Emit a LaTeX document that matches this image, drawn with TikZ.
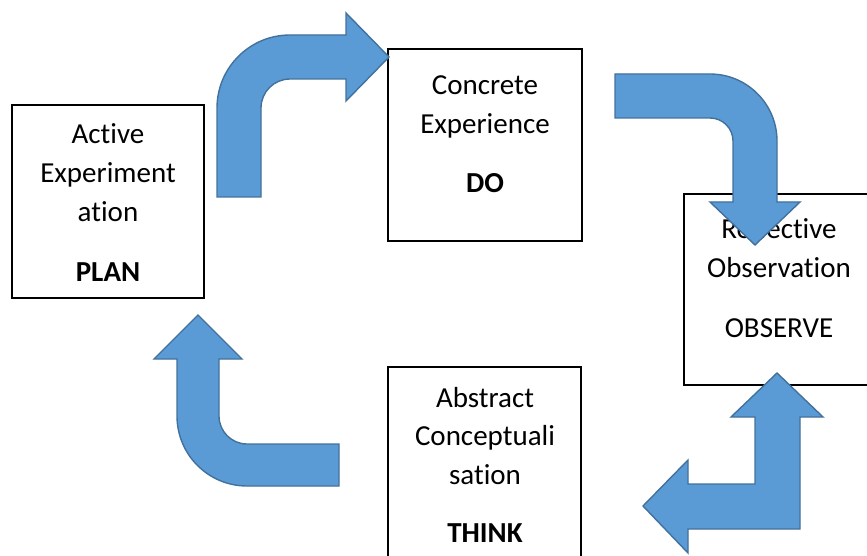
\documentclass[tikz,border=0pt]{standalone}
\usepackage{fontspec}
\setmainfont{Carlito}[Ligatures={NoCommon}]
\definecolor{arrowfill}{HTML}{5B9BD5}
\definecolor{arrowline}{HTML}{41719C}
\tikzset{
  stagebox/.style={draw=black, line width=1.8pt, fill=white},
  lbl/.style={anchor=base, inner sep=0pt, font=\fontsize{29}{35}\selectfont},
  blockarrow/.style={fill=arrowfill, draw=arrowline, line width=1.4pt, line join=miter}
}
\begin{document}
\begin{tikzpicture}[x=1pt, y=-1pt]
\useasboundingbox (0,0) rectangle (867,556);
\clip (0,0) rectangle (867,556);

% boxes
\draw[stagebox] (12,105) rectangle (204,298);
\draw[stagebox] (388,49) rectangle (582,241);
\draw[stagebox] (684,194) rectangle (876,385);
\draw[stagebox] (388,367) rectangle (581,570);

% Active Experimentation
\node[lbl] (a1) at (108,144) {Active};
\node[lbl] (a2) at (108,183) {Experiment};
\node[lbl] (a3) at (108,222) {ation};
\node[lbl] (a4) at (108,281) {\bfseries PLAN};

% Concrete Experience
\node[lbl] (c1) at (485,95) {Concrete};
\node[lbl] (c2) at (485,134) {Experience};
\node[lbl] (c3) at (485,193) {\bfseries DO};

% Reflective Observation
\node[lbl] (r1) at (779,238) {Reflective};
\node[lbl] (r2) at (779,277) {Observation};
\node[lbl] (r3) at (779,337) {OBSERVE};

% Abstract Conceptualisation
\node[lbl] (b1) at (485,407) {Abstract};
\node[lbl] (b2) at (485,445) {Conceptuali};
\node[lbl] (b3) at (485,484) {sation};
\node[lbl] (b4) at (485,542) {\bfseries THINK};

% arrow 1: up then right
\draw[blockarrow] (217,197) -- (217,108) arc[start angle=180,end angle=270,radius=73]
  -- (346,35) -- (346,13) -- (389,57) -- (346,101) -- (346,79) -- (290,79)
  arc[start angle=270,end angle=180,radius=29] -- (261,197) -- cycle;

% arrow 2: right then down
\draw[blockarrow] (615,74) -- (710,74) arc[start angle=270,end angle=360,radius=67]
  -- (777,202) -- (800,202) -- (755,245) -- (710,202) -- (733,202) -- (733,141)
  arc[start angle=0,end angle=-90,radius=23] -- (615,118) -- cycle;

% arrow 3: L with heads up and left
\draw[blockarrow] (777,373) -- (823,417) -- (800,417) -- (800,529) -- (688,529)
  -- (688,553) -- (643,506) -- (688,460) -- (688,484) -- (755,484) -- (755,417)
  -- (731,417) -- cycle;

% arrow 4: left then up
\draw[blockarrow] (198,315) -- (242,359) -- (219,359) -- (219,416)
  arc[start angle=180,end angle=90,radius=28] -- (339,444) -- (339,486) -- (247,486)
  arc[start angle=90,end angle=180,radius=70] -- (177,359) -- (154,359) -- cycle;
\end{tikzpicture}
\end{document}
